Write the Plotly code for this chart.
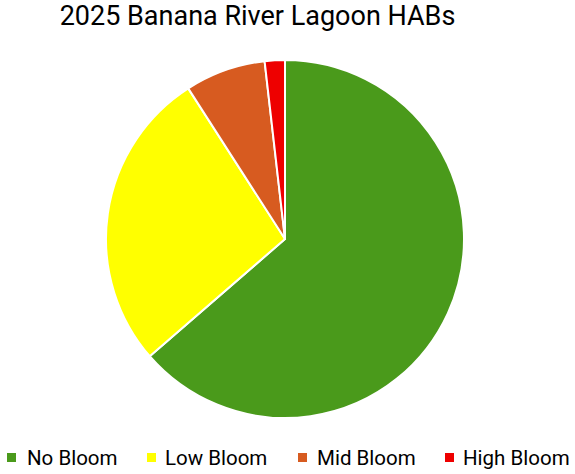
import plotly.graph_objects as go

# Bloom categories and sample counts
categories = ["No Bloom", "Low Bloom", "Mid Bloom", "High Bloom"]
counts = [35, 15, 4, 1]
colors = ["#4A9A1B", "#FFFF00", "#D75B20", "#EE0000"]

W, H = 575, 474

# legend layout (pixels from the left edge): square left edge, text start
legend_square_x = [7, 147, 298, 445]
legend_text_x = [25, 163, 315, 461]

fig = go.Figure(go.Pie(
    labels=categories,
    values=counts,
    sort=False,
    direction="clockwise",
    rotation=0,
    textinfo="none",
    hoverinfo="label+value+percent",
    showlegend=False,
    # pie box: top 60px, bottom 418px, centred on x=285
    domain=dict(x=[0, 570 / W], y=[(H - 418) / H, (H - 60) / H]),
    marker=dict(colors=colors, line=dict(color="white", width=2)),
))

# hand-placed legend, so it keeps the tight spacing of the original
for name, col, sx, tx in zip(categories, colors, legend_square_x, legend_text_x):
    fig.add_shape(type="rect", xref="paper", yref="paper",
                  x0=sx / W, x1=(sx + 9) / W, y0=(H - 462) / H, y1=(H - 453) / H,
                  fillcolor=col, line=dict(width=0))
    fig.add_annotation(text=name, xref="paper", yref="paper", x=tx / W, y=(H - 458) / H,
                       xanchor="left", yanchor="middle", showarrow=False,
                       font=dict(family="Roboto", size=20.5, color="black"))

fig.update_layout(
    width=W,
    height=H,
    title=dict(text="2025 Banana River Lagoon HABs", x=257.5 / W, xanchor="center",
               y=1 - 16 / H, yanchor="middle",
               font=dict(family="Roboto", size=27, color="black")),
    font=dict(family="Roboto", color="black"),
    margin=dict(l=0, r=0, t=0, b=0, autoexpand=False),
    paper_bgcolor="white",
    plot_bgcolor="white",
)

# drop the browser's default 8px body margin so the figure fills the window
fig.write_html("out.html", config={"displayModeBar": False},
               post_script="document.body.style.margin = '0';")
